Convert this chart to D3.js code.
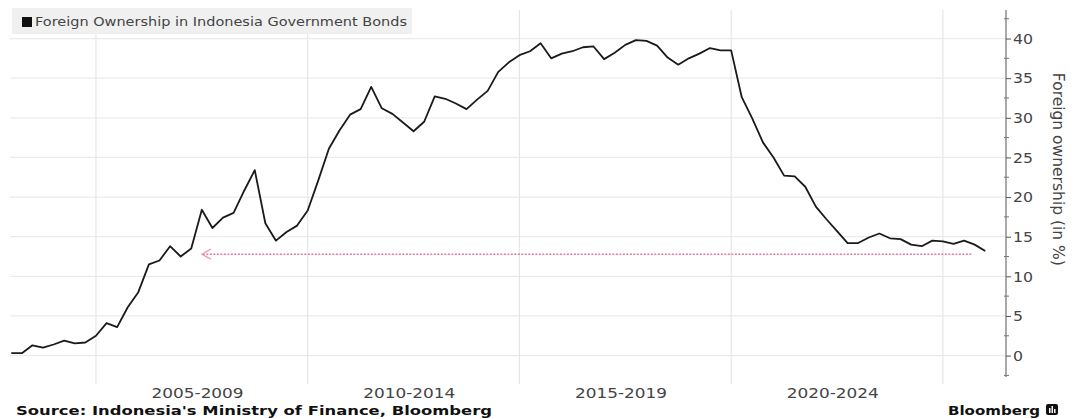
<!DOCTYPE html>
<html>
<head>
<meta charset="utf-8">
<script src="https://cdn.jsdelivr.net/npm/d3@7/dist/d3.min.js"></script>
<style>
  html, body { margin: 0; padding: 0; background: #fff; }
  svg { display: block; }
</style>
</head>
<body>
<svg id="chart" width="1074" height="419"></svg>
<script>
// ---- Data ----
const seriesName = "Foreign Ownership in Indonesia Government Bonds";
const startYear = 2003;      // first quarterly observation
const stepYears = 0.25;      // quarterly
const ownership = [
  0.3, 0.3, 1.3, 1.0, 1.4, 1.9, 1.55, 1.65, 2.5, 4.1,
  3.6, 6.1, 8.0, 11.5, 12.0, 13.8, 12.5, 13.5, 18.4, 16.1,
  17.4, 18.0, 20.8, 23.4, 16.7, 14.5, 15.6, 16.4, 18.3, 22.1,
  26.1, 28.4, 30.4, 31.1, 33.9, 31.2, 30.5, 29.4, 28.3, 29.5,
  32.7, 32.4, 31.8, 31.1, 32.3, 33.4, 35.8, 37.0, 37.9, 38.4,
  39.4, 37.5, 38.1, 38.4, 38.9, 39.0, 37.4, 38.2, 39.2, 39.8,
  39.7, 39.1, 37.6, 36.7, 37.5, 38.1, 38.8, 38.5, 38.5, 32.6,
  29.9, 26.9, 25.0, 22.7, 22.6, 21.3, 18.8, 17.2, 15.7, 14.2,
  14.2, 14.9, 15.4, 14.8, 14.7, 14.0, 13.8, 14.5, 14.4, 14.1,
  14.5, 14.0, 13.2
];
const periodStarts = [2005, 2010, 2015, 2020];
const periodLabels = ["2005-2009", "2010-2014", "2015-2019", "2020-2024"];
const gridYears = [2005, 2010, 2015, 2020, 2025];
const yTicks = [0, 5, 10, 15, 20, 25, 30, 35, 40];
const yMinorTicks = [-2.5, 2.5, 7.5, 12.5, 17.5, 22.5, 27.5, 32.5, 37.5, 42.5];
const arrowLevel = 12.8;
const arrowFromYear = 2025.7;
const arrowToYear = 2007.5;
const yTitle = "Foreign ownership (in %)";
const sourceText = "Source: Indonesia's Ministry of Finance, Bloomberg";
const brandText = "Bloomberg";

// ---- Layout ----
const svg = d3.select("#chart");
const plotLeft = 10, plotRight = 1006, plotTop = 10, plotBottom = 377;

const x = d3.scaleLinear().domain([2002.97, 2026.49]).range([plotLeft, plotRight]);
const y = d3.scaleLinear().domain([-2.7, 43.6]).range([plotBottom, plotTop]);

const points = ownership.map((v, i) => ({ t: startYear + i * stepYears, v }));

// horizontal gridlines
svg.append("g")
  .selectAll("line")
  .data(yTicks)
  .join("line")
  .attr("x1", plotLeft).attr("x2", plotRight)
  .attr("y1", d => y(d)).attr("y2", d => y(d))
  .attr("stroke", "#ebebeb").attr("stroke-width", 1.2);

// vertical gridlines
svg.append("g")
  .selectAll("line")
  .data(gridYears)
  .join("line")
  .attr("x1", d => x(d)).attr("x2", d => x(d))
  .attr("y1", plotTop).attr("y2", 384)
  .attr("stroke", "#e6e6e6").attr("stroke-width", 1.2);

// legend box
const legend = svg.append("g");
legend.append("rect")
  .attr("x", 12).attr("y", 8).attr("width", 400).attr("height", 26)
  .attr("fill", "#f0f0f0");
legend.append("rect")
  .attr("x", 22).attr("y", 17).attr("width", 10).attr("height", 10)
  .attr("fill", "#111");
legend.append("text")
  .attr("x", 35).attr("y", 26)
  .attr("font-family", "DejaVu Sans, sans-serif")
  .attr("font-size", 11.5)
  .attr("fill", "#444")
  .attr("textLength", 372)
  .attr("lengthAdjust", "spacingAndGlyphs")
  .text(seriesName);

// red dotted arrow
const arrowY = y(arrowLevel);
svg.append("line")
  .attr("x1", x(arrowToYear) + 1).attr("x2", x(arrowFromYear))
  .attr("y1", arrowY).attr("y2", arrowY)
  .attr("stroke", "#e57b93").attr("stroke-width", 1.5)
  .attr("stroke-dasharray", "2,1.5");
svg.append("path")
  .attr("d", `M${x(arrowToYear) + 9},${arrowY - 5} L${x(arrowToYear)},${arrowY} L${x(arrowToYear) + 9},${arrowY + 5}`)
  .attr("fill", "none")
  .attr("stroke", "#e8a0b0").attr("stroke-width", 1.3);

// series line
const line = d3.line().x(d => x(d.t)).y(d => y(d.v));
svg.append("path")
  .datum(points)
  .attr("d", line)
  .attr("fill", "none")
  .attr("stroke", "#1a1a1a")
  .attr("stroke-width", 1.8)
  .attr("stroke-linejoin", "round");

// right axis
const axis = d3.axisRight(y).tickValues(yTicks).tickSize(5).tickPadding(2).tickFormat(d3.format("d"));
const axG = svg.append("g").attr("transform", `translate(${plotRight},0)`).call(axis);
axG.select(".domain").attr("stroke", "#555").attr("d", `M0,${plotTop}V${plotBottom}`);
axG.selectAll(".tick line").attr("stroke", "#555");
axG.selectAll(".tick text")
  .attr("font-family", "DejaVu Sans, sans-serif")
  .attr("font-size", 13.5)
  .attr("fill", "#444")
  .attr("dy", "0.35em")
  .attr("textLength", d => String(d).length * 10)
  .attr("lengthAdjust", "spacingAndGlyphs");
svg.append("g")
  .selectAll("line")
  .data(yMinorTicks)
  .join("line")
  .attr("x1", plotRight - 2).attr("x2", plotRight + 3)
  .attr("y1", d => y(d)).attr("y2", d => y(d))
  .attr("stroke", "#777");

// y-axis title
svg.append("text")
  .attr("transform", `translate(1053,${y(23.5)}) rotate(90)`)
  .attr("text-anchor", "middle")
  .attr("font-family", "DejaVu Sans, sans-serif")
  .attr("font-size", 15.5)
  .attr("fill", "#444")
  .text(yTitle);

// period labels
svg.append("g")
  .selectAll("text")
  .data(periodLabels)
  .join("text")
  .attr("x", (d, i) => x(periodStarts[i] + 2.4))
  .attr("y", 398)
  .attr("text-anchor", "middle")
  .attr("font-family", "DejaVu Sans, sans-serif")
  .attr("font-size", 14)
  .attr("fill", "#444")
  .attr("textLength", 92)
  .attr("lengthAdjust", "spacingAndGlyphs")
  .text(d => d);

// source
svg.append("text")
  .attr("x", 16).attr("y", 415)
  .attr("font-family", "DejaVu Sans, sans-serif")
  .attr("font-weight", "bold")
  .attr("font-size", 11.5)
  .attr("fill", "#111")
  .attr("textLength", 476)
  .attr("lengthAdjust", "spacingAndGlyphs")
  .text(sourceText);

// brand
svg.append("text")
  .attr("x", 948).attr("y", 415)
  .attr("font-family", "DejaVu Sans, sans-serif")
  .attr("font-weight", "bold")
  .attr("font-size", 13)
  .attr("fill", "#111")
  .attr("textLength", 92)
  .attr("lengthAdjust", "spacingAndGlyphs")
  .text(brandText);
const logo = svg.append("g").attr("transform", "translate(1046,404)");
logo.append("rect").attr("width", 12).attr("height", 11).attr("rx", 2).attr("fill", "#111");
logo.append("rect").attr("x", 3).attr("y", 4).attr("width", 1.5).attr("height", 5).attr("fill", "#fff");
logo.append("rect").attr("x", 5.5).attr("y", 2).attr("width", 1.5).attr("height", 7).attr("fill", "#fff");
logo.append("rect").attr("x", 8).attr("y", 5).attr("width", 1.5).attr("height", 4).attr("fill", "#fff");
</script>
</body>
</html>
